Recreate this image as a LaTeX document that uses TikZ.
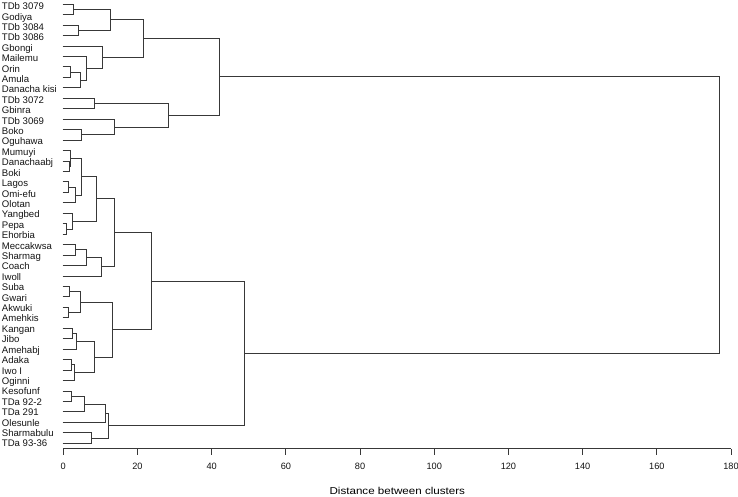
\documentclass[tikz,border=0pt]{standalone}
\usepackage{fontspec}
\setmainfont{Liberation Sans}
\usetikzlibrary{calc}
\newcommand\dmerge[4]{%
  \path let \p1=($(#3)!0.5!(#4)$) in coordinate (#1) at (#2pt,\y1);
  \draw[dg] (#3) -| (#1) (#4) -| (#1);}
\begin{document}
\begin{tikzpicture}[x=1pt,y=-1pt,
  dg/.style={draw=black!78,line width=0.95pt},
  leaflabel/.style={anchor=west,inner sep=0pt,text height=6.7pt,text depth=0pt,font=\fontsize{9.6}{10}\selectfont,text=black!92},
  ticklabel/.style={inner sep=0pt,font=\fontsize{9.2}{10}\selectfont,text=black!92},
  titlelabel/.style={inner sep=0pt,font=\fontsize{10}{12}\selectfont,text=black},
  axisline/.style={draw=black!78,line width=0.95pt}]
\useasboundingbox (0,0) rectangle (738,496);
% leaves
\foreach \lab [count=\i from 0] in {TDb 3079,Godiya,TDb 3084,TDb 3086,Gbongi,Mailemu,Orin,Amula,Danacha kisi,TDb 3072,Gbinra,TDb 3069,Boko,Oguhawa,Mumuyi,Danachaabj,Boki,Lagos,Omi-efu,Olotan,Yangbed,Pepa,Ehorbia,Meccakwsa,Sharmag,Coach,Iwoll,Suba,Gwari,Akwuki,Amehkis,Kangan,Jibo,Amehabj,Adaka,Iwo I,Oginni,Kesofunf,TDa 92-2,TDa 291,Olesunle,Sharmabulu,TDa 93-36}{
  \coordinate (L\i) at (62.5,{4.2+10.455*\i});
  \node[leaflabel] (T\i) at (1.7,{6.3+10.41*\i}) {\lab};
}
% top group
\dmerge{m1}{73.3}{L0}{L1}
\dmerge{m2}{78.3}{L2}{L3}
\dmerge{A}{110}{m1}{m2}
\dmerge{m3}{70.7}{L6}{L7}
\dmerge{m4}{80}{m3}{L8}
\dmerge{m5}{86.7}{L5}{m4}
\dmerge{B}{102.3}{L4}{m5}
\dmerge{C1}{143.3}{A}{B}
\dmerge{m6}{94}{L9}{L10}
\dmerge{m7}{81}{L12}{L13}
\dmerge{m8}{114.3}{L11}{m7}
\dmerge{C2}{168.3}{m6}{m8}
\dmerge{TOP}{219}{C1}{C2}
% bottom group
\dmerge{n1}{69}{L15}{L16}
\dmerge{n2}{70.5}{L14}{n1}
\dmerge{n3}{68.3}{L17}{L18}
\dmerge{n4}{75.7}{n3}{L19}
\dmerge{n5}{81}{n2}{n4}
\dmerge{n6}{66}{L21}{L22}
\dmerge{n7}{72.3}{L20}{n6}
\dmerge{D}{96.7}{n5}{n7}
\dmerge{n8}{75}{L23}{L24}
\dmerge{n9}{86.7}{n8}{L25}
\dmerge{n10}{101.7}{n9}{L26}
\dmerge{E}{114.3}{D}{n10}
\dmerge{p1}{69}{L27}{L28}
\dmerge{p2}{68.3}{L29}{L30}
\dmerge{p3}{80}{p1}{p2}
\dmerge{p4}{72.3}{L31}{L32}
\dmerge{p5}{76.7}{p4}{L33}
\dmerge{p6}{71}{L34}{L35}
\dmerge{p7}{74}{p6}{L36}
\dmerge{p8}{94.3}{p5}{p7}
\dmerge{F}{112.3}{p3}{p8}
\dmerge{EF}{151.7}{E}{F}
\dmerge{q1}{71}{L37}{L38}
\dmerge{q2}{84.3}{q1}{L39}
\dmerge{q3}{105}{q2}{L40}
\dmerge{q4}{91}{L41}{L42}
\dmerge{G}{108.3}{q3}{q4}
\dmerge{BOT}{244}{EF}{G}
\dmerge{ROOT}{719}{TOP}{BOT}
% axis
\coordinate (ax0) at (63.3,448.8);
\coordinate (ax1) at (731,448.8);
\draw[axisline] (ax0) -- (ax1);
\foreach \v in {0,20,...,180}{
  \coordinate (tk\v) at ({63.3+\v*3.7094},448.8);
  \coordinate (te\v) at ({63.3+\v*3.7094},455.3);
  \draw[axisline] (tk\v) -- (te\v);
  \node[ticklabel] (tl\v) at ({63.3+\v*3.7094},466.8) {\v};
}
\node[titlelabel] (title) at (397.3,490.8) {\scalebox{1.16}[1]{Distance between clusters}};
\end{tikzpicture}
\end{document}
